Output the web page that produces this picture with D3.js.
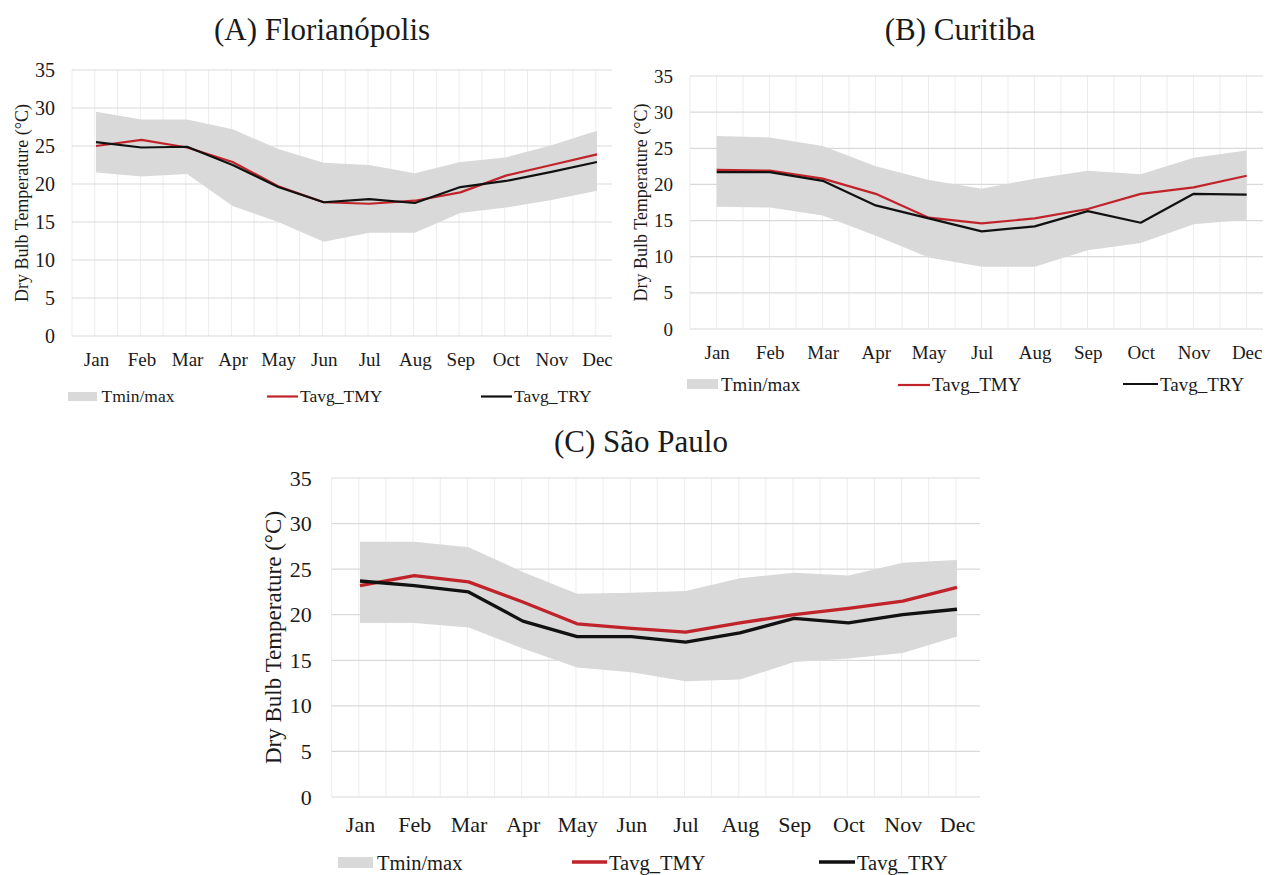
<!DOCTYPE html>
<html>
<head>
<meta charset="utf-8">
<script src="https://cdn.jsdelivr.net/npm/d3@7"></script>
<style>
html,body{margin:0;padding:0;background:#fff;}
svg{display:block;}
</style>
</head>
<body>
<svg id="chart" width="1275" height="875"></svg>
<script>
// ---------- DATA ----------
const monthsA = ["Jan","Feb","Mar","Apr","May","Jun","Jul","Aug","Sep","Oct","Nov","Dec"];
const monthsB = ["Jan","Feb","Mar","Apr","May","Jul","Aug","Sep","Oct","Nov","Dec"];
const monthsC = ["Jan","Feb","Mar","Apr","May","Jun","Jul","Aug","Sep","Oct","Nov","Dec"];
const yTicks = [0,5,10,15,20,25,30,35];

// (A) Florianópolis
const tmaxA = [29.5,28.5,28.5,27.2,24.6,22.8,22.5,21.4,22.9,23.5,25.1,27.0];
const tminA = [21.5,21.0,21.3,17.1,15.0,12.4,13.6,13.6,16.2,16.9,17.9,19.1];
const tmyA  = [25.0,25.8,24.8,22.9,19.7,17.6,17.4,17.8,18.9,21.1,22.5,23.9];
const tryA  = [25.5,24.8,24.9,22.5,19.6,17.6,18.0,17.5,19.6,20.4,21.6,22.9];

// (B) Curitiba
const tmaxB = [26.7,26.5,25.3,22.5,20.6,19.4,20.8,21.9,21.4,23.7,24.7];
const tminB = [16.9,16.8,15.7,12.9,9.9,8.6,8.6,10.9,11.9,14.5,15.1];
const tmyB  = [22.0,21.9,20.8,18.7,15.4,14.6,15.3,16.6,18.7,19.6,21.2];
const tryB  = [21.7,21.7,20.5,17.1,15.3,13.5,14.2,16.3,14.7,18.7,18.6];

// (C) São Paulo
const tmaxC = [28.0,28.0,27.4,24.7,22.3,22.4,22.6,24.0,24.6,24.3,25.7,26.0];
const tminC = [19.1,19.1,18.6,16.3,14.2,13.7,12.7,12.9,14.8,15.2,15.8,17.6];
const tmyC  = [23.2,24.3,23.6,21.4,19.0,18.5,18.1,19.1,20.0,20.7,21.5,23.0];
const tryC  = [23.7,23.2,22.5,19.3,17.6,17.6,17.0,18.0,19.6,19.1,20.0,20.6];

const titles = ["(A) Florianópolis","(B) Curitiba","(C) São Paulo"];
const legendLabels = ["Tmin/max","Tavg_TMY","Tavg_TRY"];
const yTitle = "Dry Bulb Temperature (°C)";

// ---------- LAYOUT / STYLE ----------
const FONT = "'Liberation Serif', 'Times New Roman', serif";
const TXT = "#1a1a1a";
const RED = "#c1232b", BLACK = "#111111", BAND = "#d9d9d9";
const svg = d3.select("#chart");

function txt(sel, size){
  return sel.style("font-family", FONT).style("font-size", size+"px").style("fill", TXT);
}

const panels = [
  {id:"A", title:titles[0], months:monthsA, tmax:tmaxA, tmin:tminA, tmy:tmyA, try_:tryA,
   left:72, first:96, last:597, right:612, top:70, bottom:336,
   titleX:322, titleY:40, titleSize:31,
   tickSize:20, tickGap:17, monthY:366, monthSize:19,
   yTitleX:22, yTitleSize:18, lw:2.2,
   leg:{rect:[68,392,29,9], t1:[101.5,401.5], red:[267,298,396.5], t2:[300,401.5], blk:[481,512,396.5], t3:[514,401.5], size:17.5}},
  {id:"B", title:titles[1], months:monthsB, tmax:tmaxB, tmin:tminB, tmy:tmyB, try_:tryB,
   left:690, first:716.7, last:1246.7, right:1263, top:76, bottom:329,
   titleX:960, titleY:40, titleSize:31,
   tickSize:19, tickGap:17, monthY:358.5, monthSize:19,
   yTitleX:641, yTitleSize:18, lw:2.2,
   leg:{rect:[687,379,31,10], t1:[721,391], red:[898,930,385], t2:[932,391], blk:[1123,1158,384], t3:[1160,391], size:19}},
  {id:"C", title:titles[2], months:monthsC, tmax:tmaxC, tmin:tminC, tmy:tmyC, try_:tryC,
   left:331.7, first:360, last:957, right:980, top:478, bottom:797,
   titleX:641, titleY:452, titleSize:31,
   tickSize:22, tickGap:20, monthY:832, monthSize:22,
   yTitleX:273, yTitleSize:23, lw:3.3,
   leg:{rect:[338,857,35,11], t1:[377,870], red:[572,607,862], t2:[609,870], blk:[819,855,862], t3:[857,870], size:20.5}}
];

const defs = svg.append("defs");

panels.forEach(p => {
  const g = svg.append("g").attr("class","panel-"+p.id);
  const clipId = "clip"+p.id;
  defs.append("clipPath").attr("id",clipId)
    .append("rect").attr("x",0).attr("y",0).attr("width",p.right+2).attr("height",875);
  const cg = g.append("g").attr("clip-path", p.id==="C" ? null : `url(#${clipId})`);

  const x = d3.scalePoint().domain(p.months).range([p.first,p.last]);
  const y = d3.scaleLinear().domain([0,35]).range([p.bottom,p.top]);
  const half = x.step()/2;

  // vertical gridlines at half-month intervals
  const vlines = d3.range(p.left, p.right+0.5, half);
  cg.selectAll(".vg").data(vlines).enter().append("line")
    .attr("x1",d=>d).attr("x2",d=>d).attr("y1",p.top).attr("y2",p.bottom)
    .attr("stroke","#ededed").attr("stroke-width",1);

  // horizontal gridlines
  cg.selectAll(".hg").data(yTicks).enter().append("line")
    .attr("x1",p.left).attr("x2",p.right).attr("y1",d=>y(d)).attr("y2",d=>y(d))
    .attr("stroke","#d9d9d9").attr("stroke-width",1.2);

  // y tick labels
  const yAxis = d3.axisLeft(y).tickValues(yTicks).tickSize(0).tickPadding(p.tickGap);
  const ya = cg.append("g").attr("transform",`translate(${p.left},0)`).call(yAxis);
  ya.attr("font-family",null).attr("font-size",null);
  ya.select(".domain").remove();
  txt(ya.selectAll("text"), p.tickSize);

  // x labels
  const xAxis = d3.axisBottom(x).tickSize(0).tickPadding(0);
  const xa = cg.append("g").attr("transform",`translate(0,${p.monthY})`).call(xAxis);
  xa.attr("font-family",null).attr("font-size",null);
  xa.select(".domain").remove();
  txt(xa.selectAll("text").attr("dy",0).attr("y",0), p.monthSize);

  // band
  const rows = p.months.map((m,i)=>({m, lo:p.tmin[i], hi:p.tmax[i], tmy:p.tmy[i], tr:p.try_[i]}));
  const area = d3.area().x(d=>x(d.m)).y0(d=>y(d.lo)).y1(d=>y(d.hi));
  cg.append("path").datum(rows).attr("d",area).attr("fill",BAND);

  // lines
  const lTMY = d3.line().x(d=>x(d.m)).y(d=>y(d.tmy));
  const lTRY = d3.line().x(d=>x(d.m)).y(d=>y(d.tr));
  cg.append("path").datum(rows).attr("d",lTMY).attr("fill","none")
    .attr("stroke",RED).attr("stroke-width",p.lw).attr("stroke-linejoin","round");
  cg.append("path").datum(rows).attr("d",lTRY).attr("fill","none")
    .attr("stroke",BLACK).attr("stroke-width",p.lw).attr("stroke-linejoin","round");

  // title
  txt(g.append("text").attr("x",p.titleX).attr("y",p.titleY).attr("text-anchor","middle"), p.titleSize).text(p.title);

  // y title
  const cy = (p.top+p.bottom)/2;
  txt(g.append("text").attr("transform",`translate(${p.yTitleX},${cy}) rotate(-90)`)
    .attr("text-anchor","middle").attr("dominant-baseline","central"), p.yTitleSize).text(yTitle);

  // legend
  const L = p.leg;
  g.append("rect").attr("x",L.rect[0]).attr("y",L.rect[1]).attr("width",L.rect[2]).attr("height",L.rect[3]).attr("fill",BAND);
  txt(g.append("text").attr("x",L.t1[0]).attr("y",L.t1[1]), L.size).text(legendLabels[0]);
  g.append("line").attr("x1",L.red[0]).attr("x2",L.red[1]).attr("y1",L.red[2]).attr("y2",L.red[2])
    .attr("stroke",RED).attr("stroke-width",p.lw);
  txt(g.append("text").attr("x",L.t2[0]).attr("y",L.t2[1]), L.size).text(legendLabels[1]);
  g.append("line").attr("x1",L.blk[0]).attr("x2",L.blk[1]).attr("y1",L.blk[2]).attr("y2",L.blk[2])
    .attr("stroke",BLACK).attr("stroke-width",p.lw);
  txt(g.append("text").attr("x",L.t3[0]).attr("y",L.t3[1]), L.size).text(legendLabels[2]);
});
</script>
</body>
</html>
